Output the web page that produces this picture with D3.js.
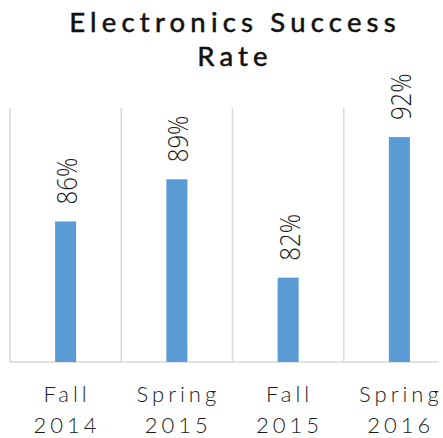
<!DOCTYPE html>
<html>
<head>
<meta charset="utf-8">
<script src="https://cdn.jsdelivr.net/npm/d3@7"></script>
<style>
  html, body { margin: 0; padding: 0; background: #fff; }
  svg { display: block; }
</style>
</head>
<body>
<script>
// Semester data
const titleLines = ["Electronics Success", "Rate"];
const categories = ["Fall 2014", "Spring 2015", "Fall 2015", "Spring 2016"];
const categoryLines = [["Fall", "2014"], ["Spring", "2015"], ["Fall", "2015"], ["Spring", "2016"]];
const successRate = [86, 89, 82, 92];
const valueLabels = ["86%", "89%", "82%", "92%"];

const width = 443, height = 438;
const plot = { left: 10, right: 455, top: 109, bottom: 362 };

const svg = d3.select("body").append("svg")
  .attr("width", width)
  .attr("height", height);

const x = d3.scaleBand()
  .domain(categories)
  .range([plot.left, plot.right])
  .paddingInner(0.811)
  .paddingOuter(0.4055);

const y = d3.scaleLinear()
  .domain([76, 94])
  .range([plot.bottom, plot.top]);

const step = x.step();
const slot = c => x(c) - x.paddingOuter() * step;

// Vertical separators between semesters
svg.append("g")
  .selectAll("line")
  .data(categories)
  .join("line")
  .attr("x1", d => slot(d))
  .attr("x2", d => slot(d))
  .attr("y1", plot.top - 1)
  .attr("y2", plot.bottom)
  .attr("stroke", "#d9d9d9")
  .attr("stroke-width", 1.5);

// Baseline
svg.append("line")
  .attr("x1", plot.left)
  .attr("x2", 439)
  .attr("y1", plot.bottom)
  .attr("y2", plot.bottom)
  .attr("stroke", "#d9d9d9")
  .attr("stroke-width", 1.5);

// Bars
svg.append("g")
  .selectAll("rect")
  .data(successRate)
  .join("rect")
  .attr("x", (d, i) => x(categories[i]))
  .attr("width", x.bandwidth())
  .attr("y", d => y(d))
  .attr("height", d => plot.bottom - y(d))
  .attr("fill", "#5b9bd5");

// Value labels, rotated above each bar
svg.append("g")
  .selectAll("text")
  .data(successRate)
  .join("text")
  .attr("transform", (d, i) =>
    `translate(${x(categories[i]) + x.bandwidth() / 2 + 11.5},${y(d) - 17}) rotate(-90) scale(1,1.15)`)
  .attr("font-family", "'Open Sans', sans-serif")
  .attr("font-weight", 300)
  .attr("font-size", 24)
  .attr("fill", "#1a1a1a")
  .text((d, i) => valueLabels[i]);

// Category labels on two lines
const catG = svg.append("g")
  .selectAll("text")
  .data(categories)
  .join("text")
  .attr("text-anchor", "middle")
  .attr("font-family", "Lato, sans-serif")
  .attr("font-weight", 300)
  .attr("font-size", 22)
  .attr("letter-spacing", 4)
  .attr("fill", "#1a1a1a");

catG.selectAll("tspan")
  .data((d, i) => categoryLines[i].map(t => ({ t, c: d })))
  .join("tspan")
  .attr("x", d => x(d.c) + x.bandwidth() / 2 + 1.5)
  .attr("y", (d, j) => 401.5 + j * 31.5)
  .text(d => d.t);

// Title, one text element per line
svg.append("g")
  .selectAll("text")
  .data(titleLines)
  .join("text")
  .attr("text-anchor", "middle")
  .attr("font-family", "Lato, sans-serif")
  .attr("font-weight", 400)
  .attr("font-size", 27.5)
  .attr("letter-spacing", 5.2)
  .attr("fill", "#111")
  .attr("stroke", "#111")
  .attr("stroke-width", 0.55)
  .attr("x", (plot.left + plot.right) / 2 + 2.5)
  .attr("y", (d, i) => 32 + i * 33.5)
  .text(d => d);
</script>
</body>
</html>
